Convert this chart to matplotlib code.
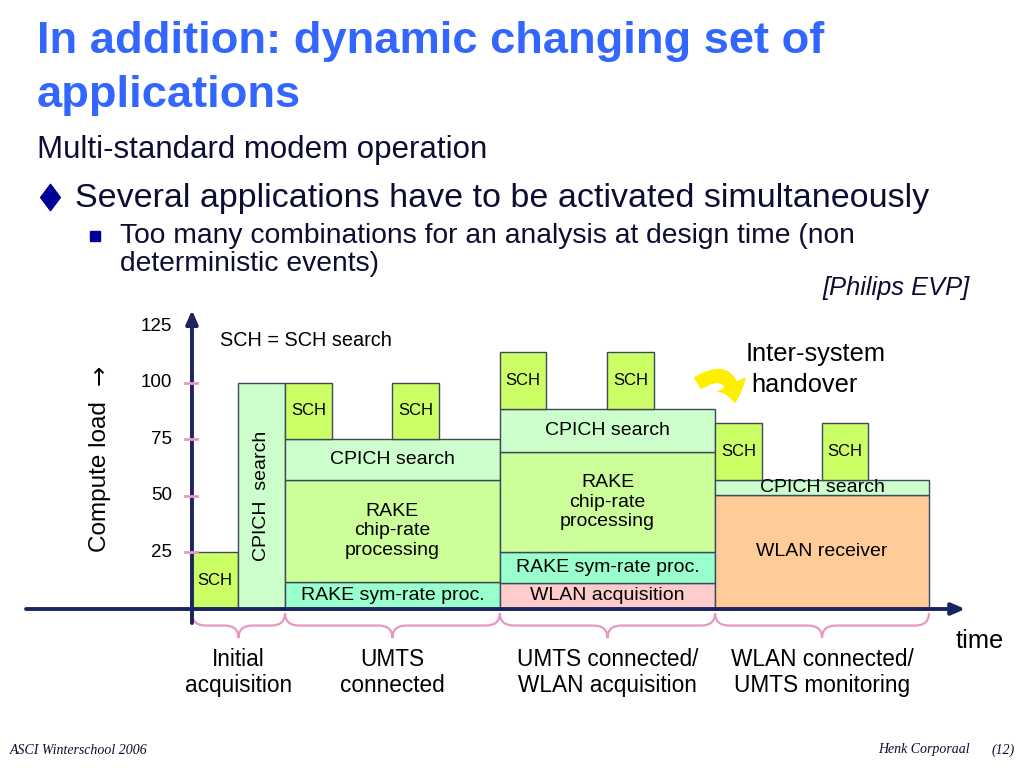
import numpy as np
import matplotlib
matplotlib.use("Agg")
import matplotlib.pyplot as plt
from matplotlib.path import Path
from matplotlib.patches import PathPatch, FancyArrowPatch
from matplotlib.lines import Line2D

plt.rcParams['font.family'] = ['Liberation Sans', 'DejaVu Sans']

# time phases along the x axis
stage_labels = ["Initial\nacquisition", "UMTS\nconnected",
                "UMTS connected/\nWLAN acquisition", "WLAN connected/\nUMTS monitoring"]
stage_edges = [0.0, 1.98, 6.55, 11.13, 15.68]

# tasks (compute load blocks)
block_names = ["SCH", "CPICH  search",
               "RAKE sym-rate proc.", "RAKE\nchip-rate\nprocessing", "CPICH search", "SCH", "SCH",
               "WLAN acquisition", "RAKE sym-rate proc.", "RAKE\nchip-rate\nprocessing", "CPICH search", "SCH", "SCH",
               "WLAN receiver", "CPICH search", "SCH", "SCH"]
block_kind = ["sch", "cpich",
              "rake_sym", "rake_chip", "cpich", "sch", "sch",
              "wlan_acq", "rake_sym", "rake_chip", "cpich", "sch", "sch",
              "wlan_rx", "cpich", "sch", "sch"]
block_start = [0.0, 0.98,
               1.98, 1.98, 1.98, 1.98, 4.26,
               6.55, 6.55, 6.55, 6.55, 6.55, 8.83,
               11.13, 11.13, 11.13, 13.40]
block_end = [0.98, 1.98,
             6.55, 6.55, 6.55, 2.98, 5.26,
             11.13, 11.13, 11.13, 11.13, 7.53, 9.83,
             15.68, 15.68, 12.13, 14.38]
block_bottom = [0, 0,
                0, 12, 57, 75, 75,
                0, 11.5, 25, 69.5, 88.5, 88.5,
                0, 50.5, 57, 57]
block_top = [25, 100,
             12, 57, 75, 100, 100,
             11.5, 25, 69.5, 88.5, 113.5, 113.5,
             50.5, 57, 82, 82]

load_ticks = [25, 50, 75, 100]
load_labels_at = [25, 50, 75, 100, 125]

kind_color = {"sch": "#ccff66", "cpich": "#ccffcc", "rake_chip": "#ccff99",
              "rake_sym": "#99ffcc", "wlan_acq": "#ffcccc", "wlan_rx": "#ffcc99"}
kind_size = {"sch": 12, "cpich": 14, "rake_chip": 14, "rake_sym": 14,
             "wlan_acq": 14, "wlan_rx": 14}

W, H = 1024, 768
fig = plt.figure(figsize=(W / 100, H / 100), dpi=100)
fig.patch.set_facecolor("white")

navy = "#1a2460"
dark = "#0d0d33"
pink = "#e896c4"


def ftext(x, y, s, **kw):
    # slide text placed by pixel position on the page
    fig.text(x / W, 1 - y / H, s, **kw)


# --- slide text
ftext(37, 41, "In addition: dynamic changing set of", fontsize=32.6,
      fontweight="bold", color="#3366ff", va="center")
ftext(37, 95, "applications", fontsize=32.6, fontweight="bold",
      color="#3366ff", va="center")
ftext(37, 150, "Multi-standard modem operation", fontsize=22.5,
      color=dark, va="center")
ftext(75, 198, "Several applications have to be activated simultaneously",
      fontsize=24.5, color=dark, va="center")
ftext(120, 236, "Too many combinations for an analysis at design time (non",
      fontsize=20.3, color=dark, va="center")
ftext(120, 264, "deterministic events)", fontsize=20.3, color=dark, va="center")
ftext(970, 288, "[Philips EVP]", fontsize=18.4, style="italic",
      color=dark, va="center", ha="right")
ftext(10, 750, "ASCI Winterschool 2006", fontsize=10, style="italic",
      family="Liberation Serif", color=dark, va="center")
ftext(970, 750, "Henk Corporaal", fontsize=10, style="italic",
      family="Liberation Serif", color=dark, va="center", ha="right")
ftext(1015, 750, "(12)", fontsize=10, style="italic",
      family="Liberation Serif", color=dark, va="center", ha="right")

diamond = Path([(0, 1), (0.75, 0), (0, -1), (-0.75, 0), (0, 1)],
               [Path.MOVETO, Path.LINETO, Path.LINETO, Path.LINETO, Path.CLOSEPOLY])
fig.add_artist(Line2D([50 / W], [1 - 197 / H], marker=diamond, markersize=19,
                      color="#000099", transform=fig.transFigure))
fig.add_artist(Line2D([95 / W], [1 - 236 / H], marker="s", markersize=7.5,
                      color="#000099", transform=fig.transFigure))

# --- chart: data (time, load) -> pixels: px = 192 + 47*t, py = 609 - 2.264*load
ax = fig.add_axes([0.1324, 0.0891, 0.8583, 0.5159])
ax.set_xlim(-1.2, 17.5)
ax.set_ylim(-40, 135)
ax.axis("off")

starts = np.array(block_start)
widths = np.array(block_end) - starts
bottoms = np.array(block_bottom)
heights = np.array(block_top) - bottoms
colors = [kind_color[k] for k in block_kind]
ax.bar(starts, heights, width=widths, bottom=bottoms, align="edge",
       color=colors, edgecolor="#3a4a5a", linewidth=1.0, zorder=2)

for name, kind, x0, w, b, h in zip(block_names, block_kind, starts, widths, bottoms, heights):
    rot = 90 if (kind == "cpich" and w < 1.5) else 0
    ax.text(x0 + w / 2, b + h / 2, name, ha="center", va="center",
            fontsize=kind_size[kind], rotation=rot, linespacing=1.22,
            color="black", zorder=3)

# axes with arrows
ax.annotate("", xy=(16.45, 0), xytext=(-3.53, 0),
            arrowprops=dict(arrowstyle="-|>,head_length=0.8,head_width=0.35",
                            color=navy, lw=2.8, shrinkA=0, shrinkB=0),
            annotation_clip=False, zorder=4)
ax.annotate("", xy=(0, 132), xytext=(0, -6.2),
            arrowprops=dict(arrowstyle="-|>,head_length=0.8,head_width=0.35",
                            color=navy, lw=2.8, shrinkA=0, shrinkB=0),
            annotation_clip=False, zorder=4)

for t in load_ticks:
    ax.plot([-0.15, 0.1], [t, t], color=pink, lw=2, zorder=5, clip_on=False)
for t in load_labels_at:
    ax.text(-0.43, t, str(t), ha="right", va="center", fontsize=13.5)

ax.text(-1.96, 58.5, "Compute load", rotation=90, ha="center",
        va="center", fontsize=17.5)
ax.text(-1.96, 103.5, "\u2192", rotation=90, ha="center",
        va="center", fontsize=17.5, family="DejaVu Sans")
ax.text(0.6, 118.4, "SCH = SCH search", ha="left", va="center", fontsize=14.3)
ax.text(13.26, 112.5, "Inter-system", ha="center", va="center", fontsize=18.3)
ax.text(13.04, 98.8, "handover", ha="center", va="center", fontsize=18.3)
ax.text(16.77, -14.1, "time", ha="center", va="center", fontsize=18.3)

# handover arrow
ax.add_patch(FancyArrowPatch((10.7, 99.0), (11.55, 89.5),
                             connectionstyle="arc3,rad=-0.9",
                             arrowstyle="simple,tail_width=0.5,head_width=1.2,head_length=0.7",
                             mutation_scale=20, facecolor="#ffee00",
                             edgecolor="none", zorder=4, clip_on=False))

# braces under the phases
y_top, y_mid, y_tip = -1.8, -7.3, -12.8
for x0, x1, lab in zip(stage_edges[:-1], stage_edges[1:], stage_labels):
    xm = (x0 + x1) / 2
    d = min(0.3, (x1 - x0) / 6)
    verts = [(x0, y_top), (x0, y_mid), (x0 + d, y_mid), (xm - d, y_mid),
             (xm, y_mid), (xm, y_tip), (xm, y_mid), (xm + d, y_mid),
             (x1 - d, y_mid), (x1, y_mid), (x1, y_top)]
    codes = [Path.MOVETO, Path.CURVE3, Path.CURVE3, Path.LINETO,
             Path.CURVE3, Path.CURVE3, Path.CURVE3, Path.CURVE3,
             Path.LINETO, Path.CURVE3, Path.CURVE3]
    ax.add_patch(PathPatch(Path(verts, codes), facecolor="none",
                           edgecolor=pink, lw=1.6, clip_on=False))
    ax.text(xm, -28.0, lab, ha="center", va="center", fontsize=16.3,
            linespacing=1.2)

fig.savefig("out.png", dpi=100)
